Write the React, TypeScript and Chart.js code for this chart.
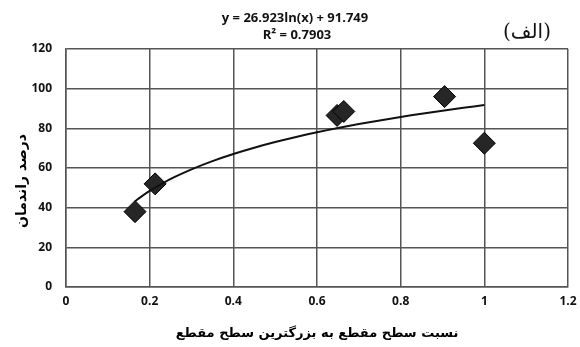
import React, { useEffect, useRef } from "react";
import { Chart, registerables } from "chart.js";

Chart.register(...registerables);

// Measured ratios (cross-section / largest cross-section) and efficiency (%)
const ratios = [0.165, 0.213, 0.648, 0.664, 0.905, 1.0];
const efficiency = [38, 52, 86.5, 88.5, 96, 72.5];

// Logarithmic trendline y = a ln(x) + b, as written in the equation label
const trendA = 26.923;
const trendB = 91.749;
const trendXs = [0.165, 0.18, 0.2, 0.23, 0.26, 0.3, 0.35, 0.4, 0.45, 0.5, 0.55, 0.6, 0.65, 0.7, 0.75, 0.8, 0.85, 0.9, 0.95, 1.0];

const xTicks = [0, 0.2, 0.4, 0.6, 0.8, 1, 1.2];
const yTicks = [0, 20, 40, 60, 80, 100, 120];

const equationText = "y = 26.923ln(x) + 91.749";
const r2Text = "R² = 0.7903";
const panelLabel = "(الف)";
const xTitle = "نسبت سطح مقطع به بزرگترین سطح مقطع";
const yTitle = "درصد راندمان";

const tickFont = { family: "'Open Sans', 'DejaVu Sans', sans-serif", size: 12, weight: "bold" as const };

const headerPlugin = {
  id: "header",
  afterDraw(chart: any) {
    const { ctx } = chart;
    ctx.save();
    ctx.fillStyle = "#111";
    ctx.textAlign = "center";
    ctx.textBaseline = "middle";
    ctx.font = "bold 13px 'Open Sans', sans-serif";
    ctx.fillText(equationText, 295, 18);
    ctx.fillText(r2Text, 297, 35);
    ctx.font = "20px 'DejaVu Serif', 'DejaVu Sans', serif";
    ctx.fillText(panelLabel, 527, 33);
    // vertical axis title
    ctx.translate(22, 181);
    ctx.rotate(-Math.PI / 2);
    ctx.fillStyle = "#000";
    ctx.font = "bold 14px 'DejaVu Sans', sans-serif";
    ctx.fillText(yTitle, 0, 0);
    ctx.restore();
  },
};

export default function App() {
  const ref = useRef<HTMLCanvasElement | null>(null);

  useEffect(() => {
    if (!ref.current) return;
    const trend = trendXs.map((x) => ({ x, y: trendA * Math.log(x) + trendB }));
    const chart = new Chart(ref.current, {
      type: "scatter",
      data: {
        datasets: [
          {
            label: "trend",
            type: "line",
            data: trend,
            borderColor: "#111",
            borderWidth: 2,
            pointRadius: 0,
            tension: 0.3,
            fill: false,
          },
          {
            label: "data",
            data: ratios.map((x, i) => ({ x, y: efficiency[i] })),
            pointStyle: "rectRot",
            pointRadius: 11,
            backgroundColor: "#262626",
            borderColor: "#000",
            borderWidth: 1,
          },
        ],
      },
      options: {
        animation: false,
        responsive: false,
        maintainAspectRatio: false,
        layout: { padding: { left: 0, right: 10, top: 49, bottom: 0 } },
        plugins: { legend: { display: false }, tooltip: { enabled: false } },
        scales: {
          x: {
            type: "linear",
            min: 0,
            max: 1.2,
            afterBuildTicks: (s: any) => { s.ticks = xTicks.map((v) => ({ value: v })); },
            afterFit: (s: any) => { s.height = 60; s.paddingLeft = 0; s.paddingRight = 0; },
            ticks: {
              color: "#111",
              font: tickFont,
              padding: 7,
              maxRotation: 0,
              callback: (v: any) => String(v),
            },
            grid: { color: "#555", lineWidth: 1.5, drawTicks: false },
            border: { color: "#555", width: 1.5 },
            title: {
              display: true,
              text: xTitle,
              color: "#000",
              font: { family: "'DejaVu Sans', sans-serif", size: 13, weight: "bold" },
              padding: { top: 4, bottom: 6 },
            },
          },
          y: {
            type: "linear",
            min: 0,
            max: 120,
            afterBuildTicks: (s: any) => { s.ticks = yTicks.map((v) => ({ value: v })); },
            afterFit: (s: any) => { s.width = 66; s.paddingTop = 0; s.paddingBottom = 0; },
            ticks: { color: "#111", font: tickFont, padding: 14 },
            grid: { color: "#555", lineWidth: 1.5, drawTicks: false },
            border: { color: "#555", width: 1.5 },
          },
        },
      },
      plugins: [headerPlugin],
    });
    return () => chart.destroy();
  }, []);

  return (
    <div style={{ position: "fixed", left: 0, top: 0, width: 580, height: 347, background: "#fff" }}>
      <canvas ref={ref} width={580} height={347} />
    </div>
  );
}
